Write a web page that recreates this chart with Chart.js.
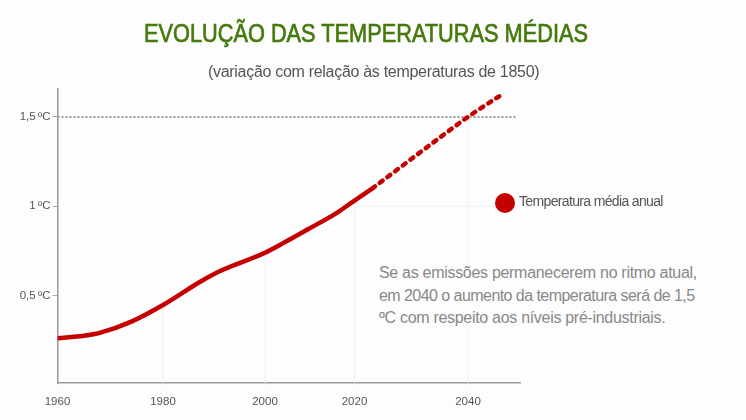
<!DOCTYPE html>
<html lang="pt">
<head>
<meta charset="utf-8">
<script src="https://cdn.jsdelivr.net/npm/chart.js@4"></script>
<style>
html, body { margin: 0; padding: 0; background: #fdfdfd; }
#wrap { position: relative; width: 746px; height: 420px; overflow: hidden; font-family: "Liberation Sans", Arial, sans-serif; }
#wrap canvas { position: absolute; left: 0; top: 0; }
#title { position: absolute; left: 144px; top: 19px; font-size: 25px; color: #457a0c; -webkit-text-stroke: 0.7px #457a0c; white-space: nowrap; transform-origin: 0 0; transform: scaleX(0.87); }
#subtitle { position: absolute; left: 208px; top: 63px; font-size: 16px; color: #555; letter-spacing: -0.3px; white-space: nowrap; }
#legendDot { position: absolute; left: 495px; top: 193px; width: 20px; height: 20px; border-radius: 50%; background: #c40000; }
#legendLabel { position: absolute; left: 519px; top: 193px; font-size: 14px; color: #555; letter-spacing: -0.65px; white-space: nowrap; }
#note { position: absolute; left: 379px; top: 262px; padding-bottom: 2px; background: #fdfdfd; font-size: 16px; line-height: 22.5px; color: #888; letter-spacing: -0.3px; white-space: nowrap; }
#note .tight { letter-spacing: -0.55px; }
</style>
</head>
<body>
<div id="wrap">
  <canvas id="chart" width="746" height="420"></canvas>
  <div id="title">EVOLUÇÃO DAS TEMPERATURAS MÉDIAS</div>
  <div id="subtitle">(variação com relação às temperaturas de 1850)</div>
  <div id="legendDot"></div>
  <div id="legendLabel">Temperatura média anual</div>
  <div id="note">Se as emissões permanecerem no ritmo atual,<br><span class="tight">em 2040 o aumento da temperatura será de 1,5</span><br>ºC com respeito aos níveis pré-industriais.</div>
</div>
<script>
const observedYears  = [1960, 1965, 1968, 1974, 1980, 1987.3, 1991.2, 2000, 2004.5, 2010, 2015.6, 2020, 2023.1];
const observedValues = [0.262, 0.276, 0.292, 0.355, 0.448, 0.578, 0.638, 0.74, 0.8, 0.877, 0.956, 1.032, 1.099];
const projectedYears  = [2023.1, 2032, 2040, 2046.1];
const projectedValues = [1.099, 1.312, 1.5, 1.63];
const yTicks = [0.5, 1, 1.5];
const yearTicks = [1960, 1980, 2000, 2020, 2040];
const guideTops = [0.448, 0.74, 1, 1.5];

// the printed axis is not evenly spaced, so each stretch keeps its own width
const yearStops = [1960, 1980, 2000, 2020, 2040, 2049];
const stopSpans = [105.5, 102, 89.5, 113.5, 52];
const spanTotal = stopSpans.reduce((s, v) => s + v, 0);

class YearScale extends Chart.LinearScale {
    getPixelForValue(value) {
        let run = 0;
        for (let i = 0; i < stopSpans.length; i++) {
            if (value <= yearStops[i + 1] || i === stopSpans.length - 1) {
                const t = (value - yearStops[i]) / (yearStops[i + 1] - yearStops[i]);
                return this.left + (run + t * stopSpans[i]) / spanTotal * this.width;
            }
            run += stopSpans[i];
        }
    }
}
YearScale.id = 'yearScale';
YearScale.defaults = Chart.LinearScale.defaults;
Chart.register(YearScale);

const pairs = (xs, ys) => xs.map((x, i) => ({ x, y: ys[i] }));
const RED = '#c40000';
const GUIDE = '#f1f1f1';

const guides = yearTicks.slice(1).map((year, i) => ({
    data: [{ x: year, y: 0 }, { x: year, y: guideTops[i] }],
    borderColor: GUIDE, borderWidth: 1, pointRadius: 0
}));

new Chart(document.getElementById('chart'), {
    type: 'line',
    data: {
        // first dataset ends up on top
        datasets: [
            { data: pairs(observedYears, observedValues), borderColor: RED, borderWidth: 4.5, pointRadius: 0, cubicInterpolationMode: 'monotone' },
            { data: pairs(projectedYears, projectedValues), borderColor: RED, borderWidth: 4.5, borderCapStyle: 'round', borderDash: [3.6, 6], pointRadius: 0, cubicInterpolationMode: 'monotone' },
            { data: [{ x: 1960, y: 1.5 }, { x: 2048.5, y: 1.5 }], borderColor: '#999', borderWidth: 2, borderDash: [2, 2], pointRadius: 0 },
            { data: [{ x: 2020, y: 1 }, { x: 2046.5, y: 1 }], borderColor: GUIDE, borderWidth: 1, pointRadius: 0 },
            ...guides
        ]
    },
    options: {
        responsive: false,
        animation: false,
        layout: { padding: { left: 0, right: 226, top: 89, bottom: 0 } },
        plugins: { legend: { display: false }, tooltip: { enabled: false } },
        scales: {
            x: {
                type: 'yearScale',
                min: 1960,
                max: 2049,
                afterFit: s => { s.height = 37; },
                afterBuildTicks: s => { s.ticks = yearTicks.map(value => ({ value })); },
                grid: { drawOnChartArea: false, color: GUIDE, tickLength: 3 },
                border: { color: '#999', width: 1.5 },
                ticks: {
                    maxRotation: 0, autoSkip: false, padding: 9, color: '#555',
                    font: { family: 'Liberation Sans', size: 11.5 },
                    callback: v => String(v)
                }
            },
            y: {
                min: 0.012,
                max: 1.656,
                afterFit: s => { s.width = 57.5; },
                afterBuildTicks: s => { s.ticks = yTicks.map(value => ({ value })); },
                grid: { drawOnChartArea: false, color: '#aaa', tickLength: 5 },
                border: { color: '#999', width: 1.5 },
                ticks: {
                    autoSkip: false, padding: 2, color: '#555',
                    font: { family: 'Liberation Sans', size: 11.5 },
                    callback: v => String(v).replace('.', ',') + '\u2009ºC'
                }
            }
        }
    }
});
</script>
</body>
</html>
